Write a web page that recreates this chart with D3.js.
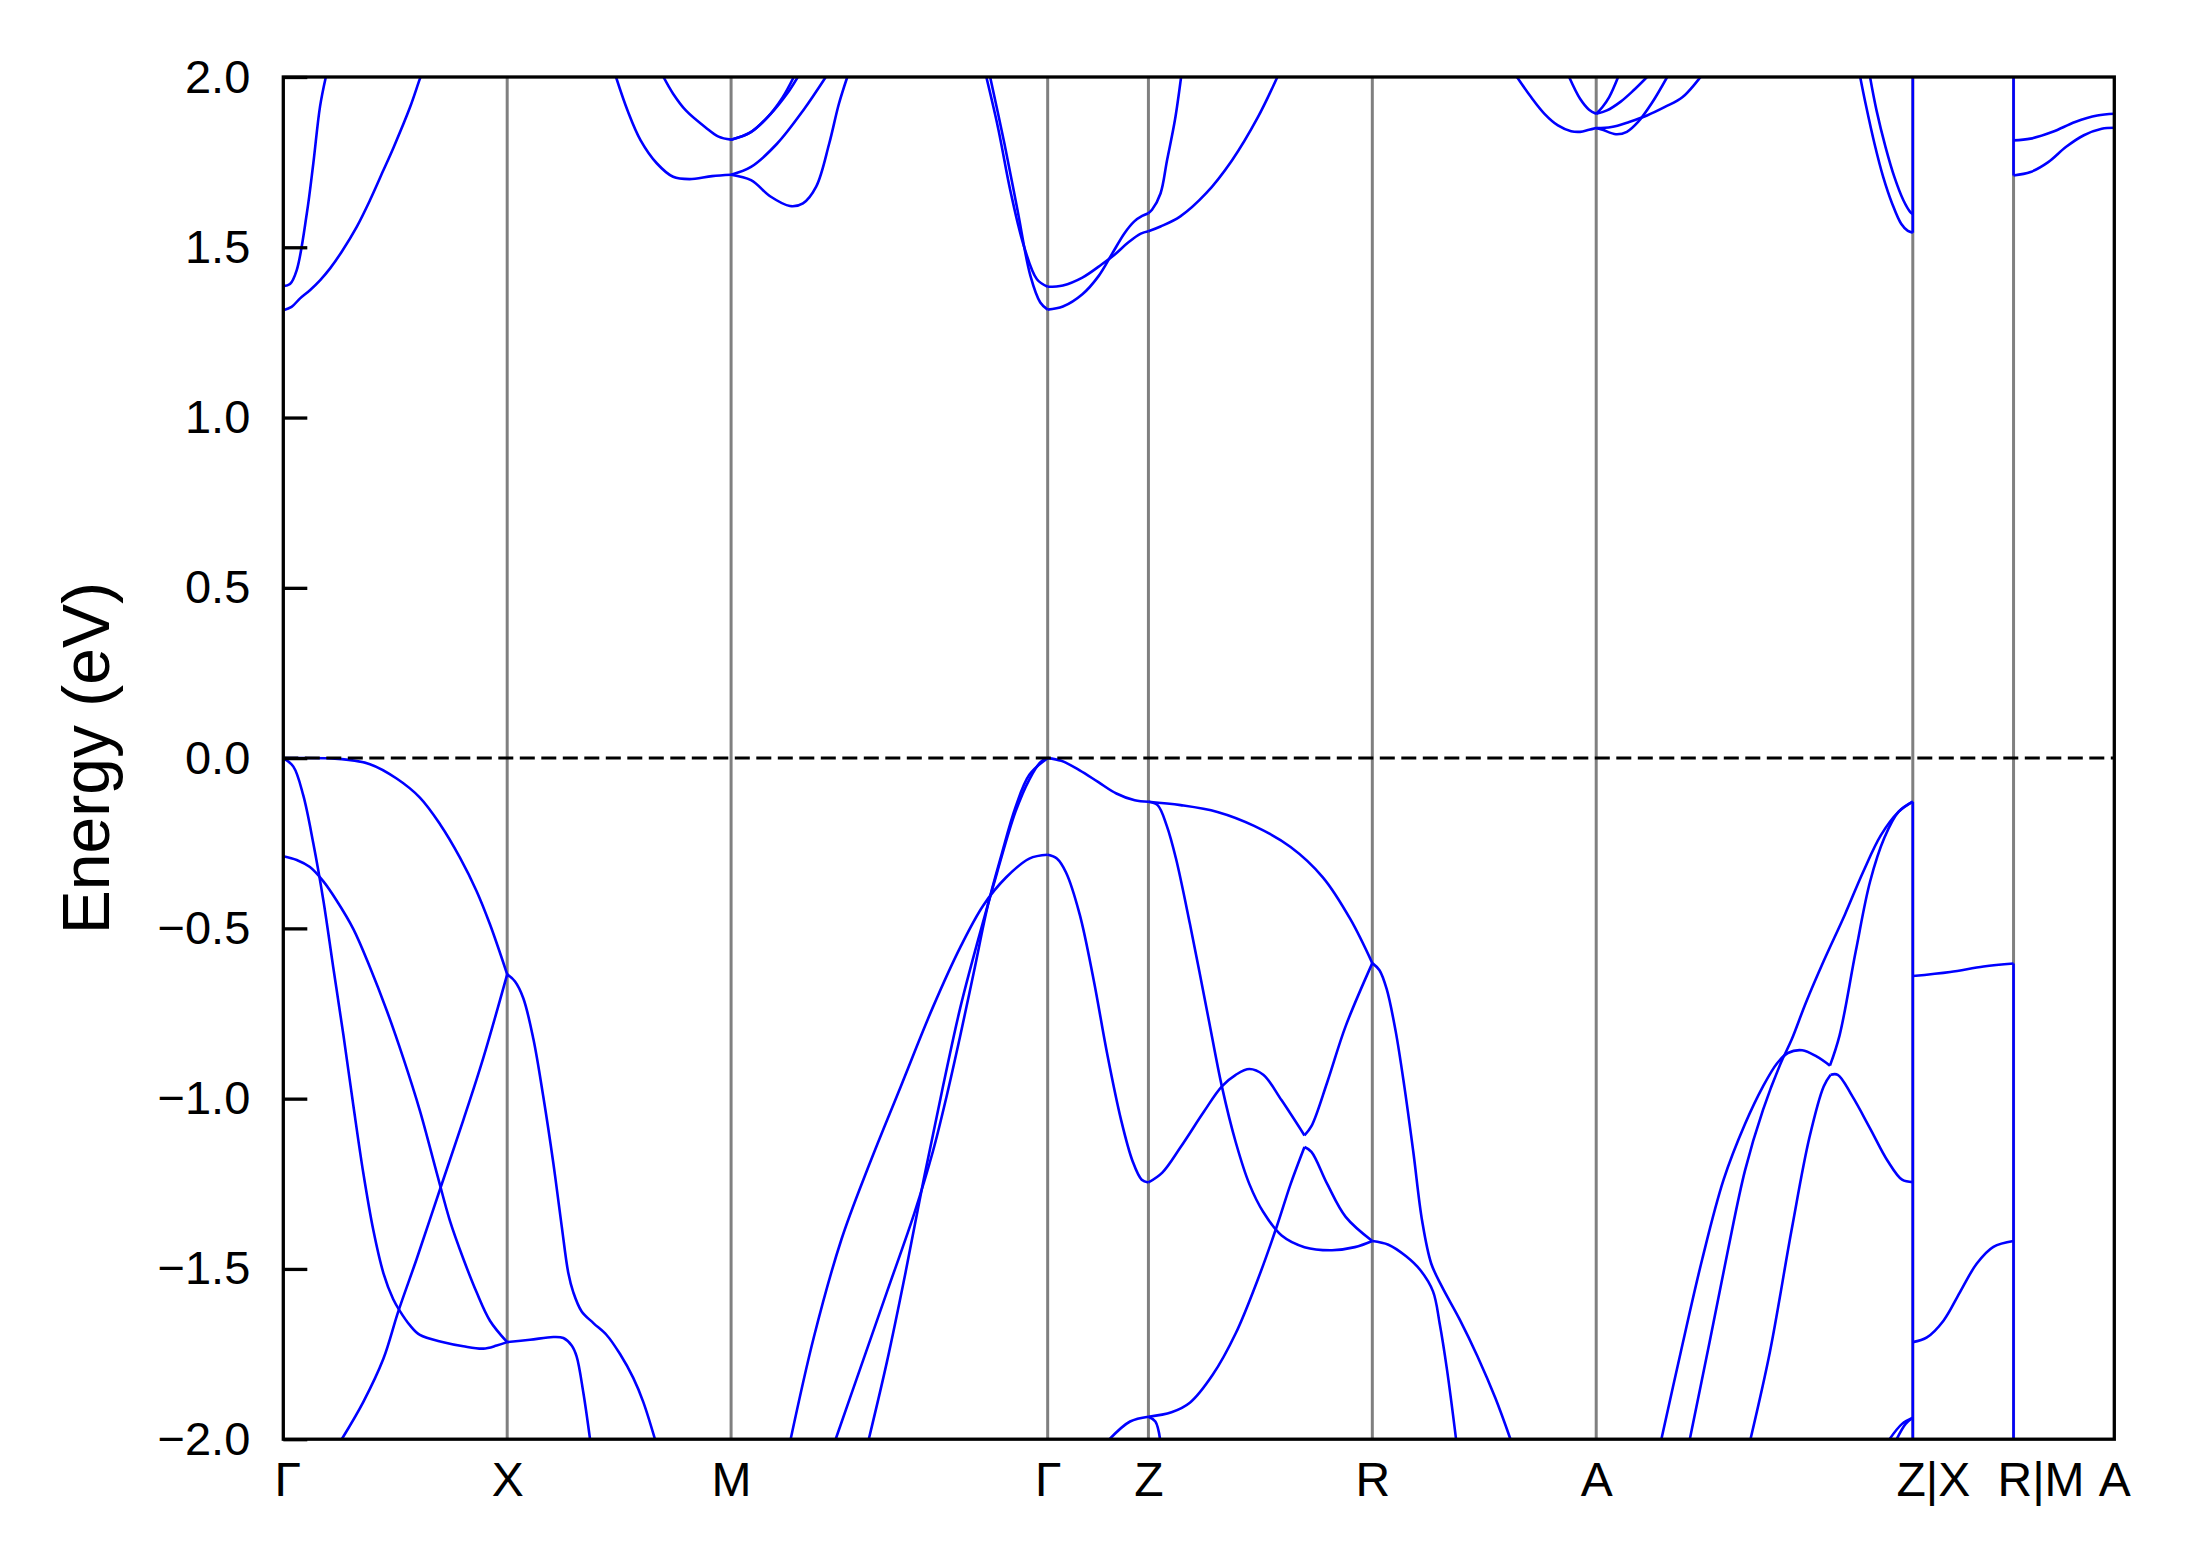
<!DOCTYPE html>
<html>
<head>
<meta charset="utf-8">
<script src="https://cdn.jsdelivr.net/npm/d3@7"></script>
<style>
  body { margin: 0; background: #fff; }
  svg text { font-family: "Liberation Sans", Arial, sans-serif; fill: #000; }
</style>
</head>
<body>
<div id="chart"></div>
<script>
// band structure along the high-symmetry path, energies in eV (E - E_F)

var kLabels = ["\u0393", "X", "M", "\u0393", "Z", "R", "A", "Z|X", "R|M", "A"];
var kTicks = [0, 1, 2, 3.414, 3.864, 4.864, 5.864, 7.278, 7.728, 8.178];
var eTicks = [-2, -1.5, -1, -0.5, 0, 0.5, 1, 1.5, 2];

// each entry is one branch, points are [k, E]
var bandsGX = [
  [[0,0],[0.261,-0.003],[0.387,-0.018],[0.506,-0.060],[0.610,-0.116],[0.700,-0.194],[0.789,-0.292],[0.863,-0.390],[0.923,-0.488],[1,-0.635]],
  [[0,0],[0.045,-0.025],[0.089,-0.109],[0.134,-0.250],[0.179,-0.418],[0.223,-0.614],[0.268,-0.811],[0.313,-1.021],[0.357,-1.217],[0.402,-1.386],[0.447,-1.512],[0.491,-1.589],[0.521,-1.624],[0.566,-1.666],[0.610,-1.694],[0.715,-1.715],[0.804,-1.727],[0.893,-1.734],[0.953,-1.725],[1,-1.715]],
  [[0,-0.288],[0.060,-0.299],[0.119,-0.320],[0.179,-0.362],[0.238,-0.418],[0.313,-0.502],[0.387,-0.614],[0.462,-0.741],[0.536,-0.881],[0.610,-1.035],[0.685,-1.217],[0.744,-1.358],[0.804,-1.470],[0.863,-1.568],[0.923,-1.652],[1,-1.715]],
  [[0.261,-2.0],[0.357,-1.891],[0.447,-1.764],[0.514,-1.624],[0.596,-1.470],[0.700,-1.266],[0.804,-1.063],[0.893,-0.881],[1,-0.635]],
  [[0,1.315],[0.037,1.325],[0.075,1.350],[0.119,1.374],[0.164,1.403],[0.209,1.438],[0.261,1.487],[0.328,1.560],[0.387,1.638],[0.447,1.726],[0.493,1.794],[0.566,1.911],[0.609,1.993],[0.62,2.012]],
  [[0,1.386],[0.03,1.392],[0.06,1.433],[0.105,1.599],[0.134,1.746],[0.164,1.913],[0.19,2.0]]
];

var bandsXM = [
  [[1,-0.635],[1.035,-0.656],[1.072,-0.705],[1.117,-0.825],[1.161,-0.993],[1.206,-1.189],[1.243,-1.372],[1.273,-1.512],[1.295,-1.568],[1.332,-1.624],[1.385,-1.659],[1.444,-1.694],[1.504,-1.750],[1.563,-1.820],[1.608,-1.891],[1.660,-2.0]],
  [[1,-1.715],[1.102,-1.708],[1.206,-1.700],[1.251,-1.703],[1.288,-1.725],[1.310,-1.757],[1.340,-1.863],[1.370,-2.0]],
  [[1.486,2.0],[1.538,1.901],[1.596,1.814],[1.669,1.746],[1.741,1.707],[1.814,1.700],[1.915,1.709],[2,1.713]],
  [[1.698,2.0],[1.741,1.951],[1.799,1.901],[1.886,1.852],[1.944,1.825],[2,1.816]]
];

var bandsMG = [
  [[2,1.816],[2.089,1.838],[2.176,1.891],[2.249,1.950],[2.298,2.0]],
  [[2,1.816],[2.08,1.835],[2.16,1.88],[2.23,1.94],[2.28,2.0]],
  [[2,1.713],[2.089,1.736],[2.205,1.804],[2.321,1.901],[2.423,2.0]],
  [[2,1.713],[2.089,1.697],[2.176,1.649],[2.263,1.621],[2.321,1.629],[2.380,1.678],[2.438,1.804],[2.481,1.920],[2.519,2.0]],
  [[3.140,2.0],[3.192,1.852],[3.250,1.658],[3.308,1.503],[3.366,1.406],[3.414,1.384]],
  [[3.157,2.0],[3.221,1.804],[3.279,1.610],[3.337,1.416],[3.381,1.338],[3.414,1.317]],
  [[2.615,-2.0],[2.697,-1.770],[2.779,-1.511],[2.860,-1.238],[2.942,-0.978],[3.024,-0.732],[3.106,-0.527],[3.188,-0.336],[3.270,-0.158],[3.332,-0.063],[3.383,-0.011],[3.414,0]],
  [[2.467,-2.0],[2.574,-1.798],[2.697,-1.566],[2.820,-1.333],[2.901,-1.156],[2.963,-0.992],[3.024,-0.814],[3.086,-0.623],[3.147,-0.432],[3.209,-0.281],[3.270,-0.145],[3.332,-0.049],[3.414,0]],
  [[2.266,-2.0],[2.369,-1.702],[2.492,-1.415],[2.615,-1.197],[2.758,-0.964],[2.901,-0.732],[3.024,-0.555],[3.127,-0.432],[3.229,-0.350],[3.332,-0.295],[3.414,-0.284]]
];

var bandsGZ = [
  [[3.414,0],[3.475,-0.008],[3.557,-0.036],[3.639,-0.070],[3.721,-0.104],[3.803,-0.124],[3.864,-0.128]],
  [[3.414,-0.284],[3.455,-0.295],[3.496,-0.336],[3.557,-0.459],[3.619,-0.650],[3.680,-0.869],[3.741,-1.060],[3.793,-1.183],[3.834,-1.238],[3.864,-1.246]],
  [[3.690,-2.0],[3.782,-1.948],[3.864,-1.934]],
  [[3.414,1.317],[3.482,1.326],[3.569,1.362],[3.642,1.416],[3.700,1.479],[3.758,1.542],[3.801,1.576],[3.836,1.592],[3.864,1.600]],
  [[3.414,1.384],[3.482,1.388],[3.569,1.411],[3.656,1.450],[3.714,1.479],[3.772,1.513],[3.830,1.540],[3.864,1.547]]
];

var bandsZR = [
  [[3.864,1.600],[3.88,1.61],[3.918,1.658],[3.947,1.755],[3.982,1.872],[4.010,2.0]],
  [[3.864,1.547],[3.918,1.561],[4.005,1.590],[4.121,1.658],[4.237,1.755],[4.353,1.882],[4.440,2.0]],
  [[3.864,-0.128],[4.008,-0.138],[4.172,-0.158],[4.336,-0.199],[4.499,-0.261],[4.643,-0.350],[4.766,-0.473],[4.864,-0.602]],
  [[3.864,-0.128],[3.905,-0.138],[3.946,-0.199],[3.987,-0.295],[4.049,-0.486],[4.131,-0.760],[4.192,-0.964],[4.254,-1.128],[4.315,-1.251],[4.377,-1.333],[4.459,-1.402],[4.561,-1.436],[4.684,-1.445],[4.786,-1.436],[4.864,-1.418]],
  [[3.864,-1.246],[3.926,-1.217],[4.008,-1.142],[4.110,-1.040],[4.192,-0.964],[4.254,-0.930],[4.315,-0.913],[4.377,-0.930],[4.459,-1.005],[4.561,-1.108]],
  [[4.561,-1.108],[4.592,-1.081],[4.663,-0.951],[4.745,-0.787],[4.864,-0.602]],
  [[3.864,-1.934],[3.967,-1.921],[4.049,-1.893],[4.151,-1.811],[4.254,-1.689],[4.356,-1.525],[4.438,-1.374],[4.499,-1.251],[4.561,-1.142]],
  [[4.561,-1.142],[4.592,-1.156],[4.663,-1.251],[4.745,-1.347],[4.864,-1.418]],
  [[3.864,-1.934],[3.895,-1.948],[3.916,-2.0]]
];

var bandsRA = [
  [[4.864,-0.602],[4.896,-0.623],[4.928,-0.678],[4.968,-0.801],[5.007,-0.964],[5.047,-1.156],[5.087,-1.361],[5.127,-1.484],[5.175,-1.552],[5.254,-1.648],[5.334,-1.757],[5.414,-1.880],[5.481,-2.0]],
  [[4.864,-1.418],[4.936,-1.429],[5.015,-1.463],[5.079,-1.504],[5.135,-1.566],[5.165,-1.661],[5.198,-1.798],[5.238,-2.0]],
  [[5.510,2.0],[5.573,1.941],[5.633,1.892],[5.693,1.858],[5.752,1.841],[5.792,1.839],[5.832,1.845],[5.864,1.850]],
  [[5.743,2.0],[5.792,1.936],[5.832,1.904],[5.864,1.892]]
];

var bandsAZ = [
  [[5.864,1.850],[5.932,1.853],[6.011,1.868],[6.091,1.887],[6.171,1.912],[6.250,1.941],[6.330,2.0]],
  [[5.864,1.850],[5.892,1.845],[5.952,1.832],[6.001,1.839],[6.051,1.868],[6.111,1.922],[6.181,2.0]],
  [[5.864,1.892],[5.892,1.912],[5.922,1.941],[5.962,2.0]],
  [[5.864,1.892],[5.912,1.902],[5.972,1.927],[6.031,1.961],[6.091,2.0]],
  [[7.043,2.0],[7.067,1.922],[7.107,1.804],[7.146,1.706],[7.186,1.628],[7.226,1.569],[7.256,1.548],[7.278,1.543]],
  [[7.087,2.0],[7.116,1.902],[7.156,1.795],[7.196,1.706],[7.236,1.638],[7.266,1.604],[7.278,1.597]],
  [[6.155,-2.0],[6.242,-1.743],[6.338,-1.470],[6.433,-1.238],[6.529,-1.074],[6.609,-0.964],[6.672,-0.896],[6.720,-0.866],[6.784,-0.858],[6.848,-0.876],[6.908,-0.903]],
  [[6.908,-0.903],[6.951,-0.814],[7.023,-0.568],[7.087,-0.363],[7.151,-0.234],[7.214,-0.158],[7.278,-0.128]],
  [[6.282,-2.0],[6.370,-1.716],[6.449,-1.456],[6.529,-1.210],[6.609,-1.033],[6.688,-0.896],[6.736,-0.828],[6.800,-0.719],[6.880,-0.596],[6.975,-0.459],[7.055,-0.336],[7.135,-0.227],[7.214,-0.158],[7.278,-0.128]],
  [[6.553,-2.0],[6.640,-1.743],[6.736,-1.388],[6.816,-1.115],[6.880,-0.964],[6.911,-0.930]],
  [[6.911,-0.930],[6.943,-0.930],[7.007,-0.992],[7.087,-1.087],[7.166,-1.183],[7.230,-1.238],[7.278,-1.245]],
  [[7.174,-2.0],[7.230,-1.955],[7.278,-1.937]],
  [[7.206,-2.0],[7.246,-1.955],[7.278,-1.937]]
];

var bandsXR = [
  [[7.278,-0.640],[7.445,-0.628],[7.594,-0.612],[7.728,-0.603]],
  [[7.278,-1.715],[7.341,-1.701],[7.415,-1.652],[7.489,-1.568],[7.564,-1.484],[7.638,-1.435],[7.728,-1.418]]
];

var bandsMA = [
  [[7.728,1.814],[7.804,1.819],[7.903,1.839],[8.003,1.868],[8.102,1.887],[8.178,1.892]],
  [[7.728,1.711],[7.804,1.721],[7.883,1.750],[7.963,1.795],[8.042,1.829],[8.122,1.848],[8.178,1.851]]
];

// vertical jumps of the bands at the path breaks Z|X and R|M
var jumps = [
  {k: 7.278, e0: -0.128, e1: -2.1},
  {k: 7.278, e0: 1.543, e1: 2.1},
  {k: 7.728, e0: -0.603, e1: -2.1},
  {k: 7.728, e0: 1.711, e1: 2.1}
];

var allBands = [].concat(bandsGX, bandsXM, bandsMG, bandsGZ, bandsZR, bandsRA, bandsAZ, bandsXR, bandsMA);

var width = 2189, height = 1567;
var plotL = 283.3, plotR = 2114.3, plotT = 77, plotB = 1439.2;

var x = d3.scaleLinear().domain([0, 8.178]).range([plotL, plotR]);
var y = d3.scaleLinear().domain([-2, 2]).range([plotB, plotT]);

var svg = d3.select("#chart").append("svg")
    .attr("width", width)
    .attr("height", height);

svg.append("rect").attr("width", width).attr("height", height).attr("fill", "#fff");

svg.append("clipPath").attr("id", "plotclip")
  .append("rect")
    .attr("x", plotL).attr("y", plotT)
    .attr("width", plotR - plotL).attr("height", plotB - plotT);

// grey lines at the inner high-symmetry points
svg.append("g").selectAll("line")
    .data(kTicks.slice(1, kTicks.length - 1))
    .enter().append("line")
    .attr("x1", function(d) { return x(d); })
    .attr("x2", function(d) { return x(d); })
    .attr("y1", plotT).attr("y2", plotB)
    .attr("stroke", "#808080")
    .attr("stroke-width", 3);

var line = d3.line()
    .x(function(d) { return x(d[0]); })
    .y(function(d) { return y(d[1]); })
    .curve(d3.curveCatmullRom.alpha(0.5));

var bandG = svg.append("g").attr("clip-path", "url(#plotclip)");

bandG.selectAll("path.band")
    .data(allBands)
    .enter().append("path")
    .attr("class", "band")
    .attr("d", line)
    .attr("fill", "none")
    .attr("stroke", "#0000ff")
    .attr("stroke-width", 2.6)
    .attr("stroke-linejoin", "round");

bandG.selectAll("line.jump")
    .data(jumps)
    .enter().append("line")
    .attr("class", "jump")
    .attr("x1", function(d) { return x(d.k); })
    .attr("x2", function(d) { return x(d.k); })
    .attr("y1", function(d) { return y(d.e0); })
    .attr("y2", function(d) { return y(d.e1); })
    .attr("stroke", "#0000ff")
    .attr("stroke-width", 2.6);

// Fermi level
svg.append("line")
    .attr("x1", plotL).attr("x2", plotR)
    .attr("y1", y(0)).attr("y2", y(0))
    .attr("stroke", "#000")
    .attr("stroke-width", 3)
    .attr("stroke-dasharray", "15,6.5");

// axes
var yAxis = d3.axisLeft(y)
    .tickValues(eTicks)
    .tickFormat(d3.format(".1f"))
    .tickSizeInner(-24)
    .tickSizeOuter(0)
    .tickPadding(33);

var gy = svg.append("g")
    .attr("transform", "translate(" + plotL + ",0)")
    .call(yAxis);
gy.select(".domain").remove();
gy.selectAll(".tick line").attr("stroke", "#000").attr("stroke-width", 3.3);
gy.selectAll(".tick text")
    .style("font-family", "'Liberation Sans', Arial, sans-serif")
    .style("font-size", "47px");

var xAxis = d3.axisBottom(x)
    .tickValues(kTicks)
    .tickFormat(function(d, i) { return kLabels[i]; })
    .tickSize(0)
    .tickPadding(23);

var gx = svg.append("g")
    .attr("transform", "translate(0," + plotB + ")")
    .call(xAxis);
gx.select(".domain").remove();
gx.selectAll(".tick text")
    .style("font-family", "'Liberation Sans', Arial, sans-serif")
    .style("font-size", "48px")
    // joined labels sit a little right of their break line in the original
    .attr("dx", function(d, i) {
      if (kLabels[i] === "Z|X") return 20;
      if (kLabels[i] === "R|M") return 27;
      if (i === 0) return 4;
      return 0;
    });

svg.append("text")
    .attr("transform", "translate(86," + ((plotT + plotB) / 2) + ") rotate(-90)")
    .attr("text-anchor", "middle")
    .attr("dominant-baseline", "central")
    .style("font-size", "66px")
    .text("Energy (eV)");

// frame
svg.append("rect")
    .attr("x", plotL).attr("y", plotT)
    .attr("width", plotR - plotL).attr("height", plotB - plotT)
    .attr("fill", "none")
    .attr("stroke", "#000")
    .attr("stroke-width", 3.3);
</script>
</body>
</html>
